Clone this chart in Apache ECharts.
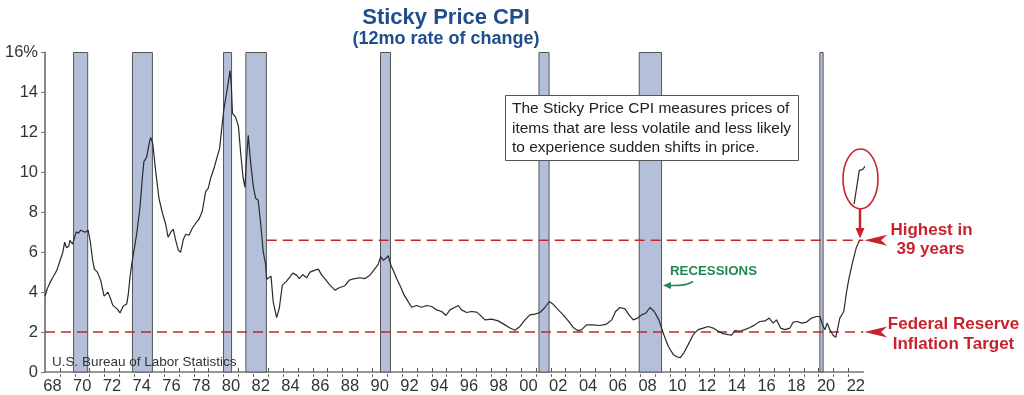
<!DOCTYPE html>
<html><head><meta charset="utf-8">
<script src="https://cdn.jsdelivr.net/npm/echarts@6/dist/echarts.min.js"></script>
<style>html,body{margin:0;padding:0;background:#fff}#c{width:1024px;height:395px}</style>
</head><body><div id="c"></div>
<script>
// time in decimal years
const dates = [
1968.00,1968.15,1968.35,1968.55,1968.80,1969.03,1969.20,1969.32,1969.45,1969.60,1969.68,1969.85,1969.95,
1970.10,1970.25,1970.40,1970.55,1970.70,1970.90,1971.05,1971.20,1971.32,1971.52,1971.74,1971.97,
1972.10,1972.23,1972.41,1972.55,1972.68,1972.86,1973.04,1973.15,1973.26,1973.49,1973.60,1973.71,1973.87,
1974.16,1974.38,1974.54,1974.65,1974.83,1974.99,1975.10,1975.24,1975.44,1975.66,1975.88,
1976.11,1976.27,1976.45,1976.62,1976.78,1976.96,1977.12,1977.30,1977.46,1977.68,1977.90,
1978.13,1978.35,1978.57,1978.80,1978.97,1979.13,1979.36,1979.58,1979.74,1979.88,
1980.03,1980.18,1980.32,1980.43,1980.52,1980.60,1980.82,1981.00,1981.15,1981.30,1981.44,1981.53,1981.66,1981.82,
1982.00,1982.16,1982.33,1982.50,1982.67,1982.83,1982.90,1983.00,1983.19,1983.34,1983.57,1983.75,1983.95,
1984.24,1984.45,1984.65,1984.91,1985.09,1985.32,1985.59,1985.81,1986.15,1986.37,1986.60,1986.89,
1987.15,1987.49,1987.78,1988.16,1988.45,1988.83,1989.17,1989.50,1989.84,
1990.18,1990.40,1990.56,1990.73,1990.92,1991.07,1991.25,1991.45,1991.63,1991.90,
1992.13,1992.35,1992.64,1992.98,1993.32,1993.65,1993.99,1994.32,1994.66,1994.95,
1995.22,1995.55,1995.78,1996.00,1996.34,1996.67,1997.01,1997.23,1997.57,1998.02,1998.46,1998.91,
1999.25,1999.59,1999.92,2000.26,2000.59,2000.93,2001.27,2001.60,2001.89,2002.16,2002.50,2002.83,
2003.17,2003.50,2003.84,2004.07,2004.40,2004.85,2005.30,2005.75,2006.09,2006.35,2006.64,2006.98,
2007.25,2007.54,2007.83,2008.10,2008.37,2008.66,2008.95,2009.26,2009.55,2009.89,
2010.22,2010.50,2010.70,2010.94,2011.23,2011.57,2011.90,2012.24,2012.58,2012.91,
2013.25,2013.58,2013.92,2014.15,2014.37,2014.71,2015.04,2015.38,2015.71,2016.05,2016.39,2016.68,2016.94,
2017.17,2017.44,2017.73,2018.07,2018.29,2018.56,2018.85,2019.19,2019.52,2019.86,
2020.08,2020.26,2020.42,2020.57,2020.75,2020.97,2021.15,2021.31,2021.42,2021.53,2021.69,2021.87,
2022.04,2022.28,2022.54,2022.75
];
const stickyCpi = [
3.8,4.17,4.5,4.77,5.1,5.62,6.0,6.5,6.22,6.3,6.6,6.4,6.45,
7.02,6.95,7.1,7.05,7.0,7.1,6.5,5.6,5.15,5.0,4.6,3.8,
3.8,4.0,3.67,3.35,3.3,3.15,2.96,3.05,3.3,3.4,3.9,4.75,5.6,
6.9,8.2,9.7,10.55,10.75,11.4,11.75,11.45,10.05,8.7,8.0,
7.4,6.75,7.0,7.15,6.6,6.1,6.0,6.65,6.9,6.85,7.2,
7.45,7.65,8.05,9.05,9.2,9.7,10.2,10.8,11.2,12.2,
13.2,13.85,14.5,15.1,14.4,12.95,12.75,12.3,11.0,9.8,9.25,10.5,11.85,10.5,
9.3,8.7,8.6,7.4,6.0,5.4,4.65,4.7,4.8,3.5,2.72,3.2,4.35,
4.55,4.75,4.95,4.85,4.68,4.88,4.72,5.0,5.1,5.15,4.85,4.6,
4.35,4.1,4.22,4.32,4.6,4.68,4.72,4.68,4.85,
5.18,5.4,5.78,5.6,5.7,5.82,5.35,5.02,4.68,4.27,
3.86,3.6,3.24,3.33,3.24,3.33,3.28,3.11,3.03,2.83,
3.11,3.24,3.33,3.11,2.98,3.03,3.0,2.86,2.61,2.65,2.56,2.36,
2.2,2.09,2.28,2.61,2.86,2.9,2.98,3.23,3.53,3.39,3.11,2.86,
2.56,2.23,2.07,2.12,2.36,2.36,2.33,2.4,2.61,3.03,3.23,3.16,
2.86,2.61,2.7,2.86,2.94,3.23,3.03,2.61,1.95,1.29,
0.88,0.75,0.72,0.96,1.37,1.87,2.12,2.2,2.28,2.2,
2.04,1.92,1.87,1.85,2.07,2.04,2.12,2.23,2.36,2.53,2.56,2.7,2.45,
2.61,2.2,2.12,2.2,2.5,2.53,2.45,2.5,2.7,2.78,
2.78,2.36,2.12,2.45,2.12,1.84,1.74,2.28,2.7,2.6,3.03,4.0,
4.7,5.5,6.25,6.6
];
// circled latest readings
const insetDates = [2022.38, 2022.73, 2022.96, 2023.27];
const insetValues = [8.4, 10.1, 10.15, 10.43];

const recessionStart = [1969.92, 1973.88, 1980.0, 1981.5, 1990.55, 2001.2, 2007.94, 2020.08];
const recessionEnd   = [1970.87, 1975.22, 1980.54, 1982.88, 1991.22, 2001.88, 2009.44, 2020.3];

const fedTarget = 2;
const highestLevel = 6.6;
const highestFrom = 1982.9;
const lineEnd = 2023;

const xTickLabels = ['68','70','72','74','76','78','80','82','84','86','88','90','92','94','96','98',
  '00','02','04','06','08','10','12','14','16','18','20','22'];
const yTickLabels = ['0','2','4','6','8','10','12','14','16%'];

const FONT = '"Liberation Sans", Arial, sans-serif';
const RED = '#c8232c';
const tickYears = []; for (let y = 1969; y <= 2022; y++) tickYears.push(y);
const labelYears = xTickLabels.map((s, i) => 1968.5 + 2 * i);

const chart = echarts.init(document.getElementById('c'), null, {renderer: 'canvas'});
const arrowPath = 'path://M0,5 L22,0 L16,5 L22,10 Z';
const gridBox = {left: 45, right: 160.7, top: 52.5, bottom: 20.7};

chart.setOption({
  animation: false,
  backgroundColor: '#fff',
  textStyle: {fontFamily: FONT},
  grid: [Object.assign({}, gridBox), Object.assign({}, gridBox)],
  xAxis: [{
    type: 'value', min: 1968, max: 2023, gridIndex: 0,
    axisLine: {show: true, onZero: false, lineStyle: {color: '#777', width: 1.5}},
    splitLine: {show: false},
    axisTick: {show: true, customValues: tickYears, inside: true, length: 4, lineStyle: {color: '#555', width: 1}},
    axisLabel: {customValues: labelYears, margin: 6, fontSize: 16.5, color: '#333', fontFamily: FONT,
      formatter: v => xTickLabels[Math.round((v - 1968.5) / 2)]}
  }, {
    type: 'value', min: 1968, max: 2023, gridIndex: 1,
    axisLine: {show: false}, splitLine: {show: false}, axisLabel: {show: false},
    axisTick: {show: true, customValues: tickYears, inside: false, length: 2.5, lineStyle: {color: '#555', width: 1}}
  }],
  yAxis: [{
    type: 'value', min: 0, max: 16, interval: 2, gridIndex: 0,
    axisLine: {show: true, lineStyle: {color: '#888', width: 2}},
    splitLine: {show: false},
    axisTick: {show: true, length: 4, lineStyle: {color: '#777'}},
    axisLabel: {margin: 7, fontSize: 16.5, color: '#333', fontFamily: FONT,
      formatter: v => yTickLabels[Math.round(v / 2)]}
  }, {
    type: 'value', min: 0, max: 16, gridIndex: 1, show: false
  }],
  series: [{
    type: 'line', name: 'target', symbol: 'none', silent: true,
    data: [[1968, fedTarget], [lineEnd, fedTarget]],
    lineStyle: {color: RED, width: 1.6, type: [10, 6]},
    markArea: {
      silent: true,
      itemStyle: {color: '#b4c0da', borderColor: '#555', borderWidth: 1},
      data: recessionStart.map((s, i) => [{xAxis: s}, {xAxis: recessionEnd[i]}])
    },
    markPoint: {
      silent: true, symbol: arrowPath, symbolSize: [23, 11], symbolOffset: [12.5, 0], symbolKeepAspect: false,
      itemStyle: {color: RED}, label: {show: false},
      data: [{coord: [lineEnd, fedTarget]}]
    }
  }, {
    type: 'line', name: 'high', symbol: 'none', silent: true,
    data: [[highestFrom, highestLevel], [lineEnd, highestLevel]],
    lineStyle: {color: RED, width: 1.6, type: [10, 6]},
    markPoint: {
      silent: true, symbol: arrowPath, symbolSize: [23, 11], symbolOffset: [12.5, 0], symbolKeepAspect: false,
      itemStyle: {color: RED}, label: {show: false},
      data: [{coord: [lineEnd, highestLevel]}]
    }
  }, {
    type: 'line', name: 'Sticky Price CPI', symbol: 'none', silent: true,
    data: dates.map((d, i) => [d, stickyCpi[i]]),
    lineStyle: {color: '#2a2a2a', width: 1.2}
  }, {
    type: 'line', name: 'latest', symbol: 'none', silent: true, clip: false,
    data: insetDates.map((d, i) => [d, insetValues[i]]),
    lineStyle: {color: '#2a2a2a', width: 1.2}
  }],
  graphic: [
    {type: 'text', z: 100, x: 446, y: 17.5, style: {text: 'Sticky Price CPI', font: 'bold 22px ' + FONT, fill: '#1f4e8c', align: 'center', verticalAlign: 'middle'}},
    {type: 'text', z: 100, x: 446, y: 39, style: {text: '(12mo rate of change)', font: 'bold 18px ' + FONT, fill: '#1f4e8c', align: 'center', verticalAlign: 'middle'}},
    {type: 'rect', z: 100, shape: {x: 505.5, y: 95.5, width: 293, height: 65}, style: {fill: '#fff', stroke: '#555', lineWidth: 1}},
    {type: 'text', z: 101, x: 512, y: 109, style: {text: 'The Sticky Price CPI measures prices of', font: '15.5px ' + FONT, fill: '#222', verticalAlign: 'middle'}},
    {type: 'text', z: 101, x: 512, y: 129, style: {text: 'items that are less volatile and less likely', font: '15.5px ' + FONT, fill: '#222', verticalAlign: 'middle'}},
    {type: 'text', z: 101, x: 512, y: 148, style: {text: 'to experience sudden shifts in price.', font: '15.5px ' + FONT, fill: '#222', verticalAlign: 'middle'}},
    {type: 'text', z: 100, x: 52, y: 362, style: {text: 'U.S. Bureau of Labor Statistics', font: '13.5px ' + FONT, fill: '#333', verticalAlign: 'middle'}},
    {type: 'text', z: 100, x: 713.5, y: 271.5, style: {text: 'RECESSIONS', font: 'bold 13.3px ' + FONT, fill: '#1f8a55', align: 'center', verticalAlign: 'middle'}},
    {type: 'bezierCurve', z: 100, shape: {x1: 693, y1: 281.5, cpx1: 687, cpy1: 286, x2: 669, y2: 285.5}, style: {stroke: '#1f8a55', lineWidth: 1.6, fill: 'none'}},
    {type: 'polygon', z: 100, shape: {points: [[663, 285.5], [671, 282], [671, 289]]}, style: {fill: '#1f8a55'}},
    {type: 'ellipse', z: 100, shape: {cx: 860.5, cy: 179, rx: 17.5, ry: 30}, style: {fill: 'none', stroke: RED, lineWidth: 1.6}},
    {type: 'line', z: 100, shape: {x1: 860, y1: 209, x2: 860, y2: 229}, style: {stroke: RED, lineWidth: 2.5}},
    {type: 'polygon', z: 100, shape: {points: [[855.5, 228], [864.5, 228], [860, 238.5]]}, style: {fill: RED}},
    {type: 'text', z: 100, x: 931.5, y: 230, style: {text: 'Highest in', font: 'bold 17px ' + FONT, fill: RED, align: 'center', verticalAlign: 'middle'}},
    {type: 'text', z: 100, x: 930.5, y: 249, style: {text: '39 years', font: 'bold 17px ' + FONT, fill: RED, align: 'center', verticalAlign: 'middle'}},
    {type: 'text', z: 100, x: 953.5, y: 324, style: {text: 'Federal Reserve', font: 'bold 17px ' + FONT, fill: RED, align: 'center', verticalAlign: 'middle'}},
    {type: 'text', z: 100, x: 953.5, y: 344, style: {text: 'Inflation Target', font: 'bold 17px ' + FONT, fill: RED, align: 'center', verticalAlign: 'middle'}}
  ]
});
</script>
</body></html>
